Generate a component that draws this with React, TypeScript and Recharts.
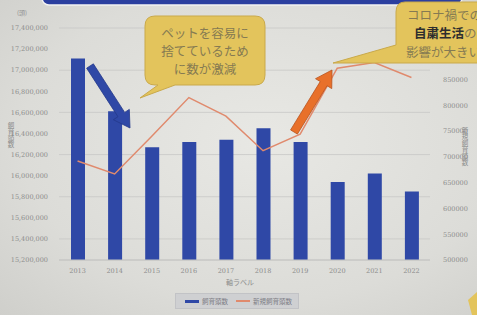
import React from 'react';
import { ComposedChart, Bar, Line, XAxis, YAxis, CartesianGrid } from 'recharts';

const years = ['2013', '2014', '2015', '2016', '2017', '2018', '2019', '2020', '2021', '2022'];
const headCounts = [17110000, 16610000, 16270000, 16320000, 16340000, 16450000, 16320000, 15940000, 16020000, 15850000];
const newCounts = [692000, 667000, 740000, 815000, 779000, 712000, 744000, 872000, 883000, 854000];
const leftTicks = [15200000, 15400000, 15600000, 15800000, 16000000, 16200000, 16400000, 16600000, 16800000, 17000000, 17200000, 17400000];
// 900000 and 950000 sit behind the callout in the original
const rightTicks = [500000, 550000, 600000, 650000, 700000, 750000, 800000, 850000];

const data = years.map((y, i) => ({ year: y, total: headCounts[i], fresh: newCounts[i] }));

const JP = '"Noto Sans CJK JP", "Noto Sans", sans-serif';
const tickStyle = { fontSize: 6.5, fill: '#8c8c8c', fontFamily: '"DejaVu Serif", serif' };

// fat arrow polygon from (x1,y1) to tip (x2,y2)
function arrowPoints(x1: number, y1: number, x2: number, y2: number, shaft: number, head: number, headLen: number) {
  const dx = x2 - x1, dy = y2 - y1;
  const len = Math.sqrt(dx * dx + dy * dy);
  const ux = dx / len, uy = dy / len;
  const px = -uy, py = ux;
  const bx = x2 - ux * headLen, by = y2 - uy * headLen;
  const pts = [
    [x1 + px * shaft / 2, y1 + py * shaft / 2],
    [bx + px * shaft / 2, by + py * shaft / 2],
    [bx + px * head / 2, by + py * head / 2],
    [x2, y2],
    [bx - px * head / 2, by - py * head / 2],
    [bx - px * shaft / 2, by - py * shaft / 2],
    [x1 - px * shaft / 2, y1 - py * shaft / 2],
  ];
  return pts.map(p => p.join(',')).join(' ');
}

function Overlay() {
  return (
    <svg width={477} height={315} style={{ position: 'absolute', left: 0, top: 0, pointerEvents: 'none' }}>
      {/* header banner */}
      <rect x={42} y={-20} width={420} height={25} rx={7} fill="#2b3f9f" stroke="#f2f2f2" strokeWidth={1.5} />
      <text x={17} y={15} fontSize={6} fill="#8c8c8c" fontFamily={JP}>(頭)</text>

      {/* arrows */}
      <polygon points={arrowPoints(90, 66, 130, 128, 8, 19, 16)} fill="#2f48a6" stroke="#23388a" strokeWidth={0.8} />
      <polygon points={arrowPoints(294, 132, 332, 70, 8, 19, 16)} fill="#e8702a" stroke="#b9521c" strokeWidth={0.8} />

      {/* callout 1 */}
      <path
        d="M155,16 L255,16 Q265,16 265,26 L265,75 Q265,85 255,85 L175,85 L140,98 L158,85 L155,85 Q145,85 145,75 L145,26 Q145,16 155,16 Z"
        fill="#e3c45c" stroke="#c9a94a" strokeWidth={1} />
      <g fontFamily={JP} fontSize={12.5} fill="#857a52" textAnchor="middle">
        <text x={205} y={38}>ペットを容易に</text>
        <text x={205} y={56}>捨てているため</text>
        <text x={205} y={74}>に数が激減</text>
      </g>

      {/* callout 2 */}
      <path
        d="M405,2 L490,2 L490,63 L412,63 L333,63 L396,45 L396,12 Q396,2 405,2 Z"
        fill="#e3c45c" stroke="#c9a94a" strokeWidth={1} />
      <g fontFamily={JP} fontSize={12.5} fill="#857a52">
        <text x={407} y={20}>コロナ禍での</text>
        <text x={414} y={38}><tspan fill="#2e2e2e" fontWeight={700}>自粛生活</tspan>の</text>
        <text x={406} y={57}>影響が大きい</text>
      </g>

      {/* corner shape */}
      <polygon points="468,300 477,292 477,315 472,315" fill="#e3c45c" />

      {/* axis titles */}
      <text x={240} y={285} fontSize={7} fill="#8c8c8c" textAnchor="middle" fontFamily={JP}>軸ラベル</text>
      <text fontSize={6.5} fill="#8c8c8c" fontFamily={JP} style={{ writingMode: 'vertical-rl' } as any} x={11} y={122}>飼育頭数</text>
      <text fontSize={6.5} fill="#8c8c8c" fontFamily={JP} style={{ writingMode: 'vertical-rl' } as any} x={465} y={127}>新規飼育頭数</text>
    </svg>
  );
}

function LegendBox() {
  return (
    <div style={{
      position: 'absolute', left: 175, top: 293, width: 124, height: 16,
      background: '#cfd0d2', border: '1px solid #c2c3c6', display: 'flex', alignItems: 'center',
      fontFamily: JP, fontSize: 6.5, color: '#7d7d85', boxSizing: 'border-box', paddingLeft: 9,
    }}>
      <span style={{ display: 'inline-block', width: 14, height: 3, background: '#2f48a6', marginRight: 3 }} />
      <span style={{ marginRight: 8 }}>飼育頭数</span>
      <span style={{ display: 'inline-block', width: 14, height: 1.5, background: '#e08a6d', marginRight: 3 }} />
      <span>新規飼育頭数</span>
    </div>
  );
}

export default function App() {
  return (
    <div style={{
      position: 'absolute', left: 0, top: 0, width: 477, height: 315, overflow: 'hidden',
      background: 'radial-gradient(ellipse at 55% 45%, #e8e8e4 0%, #dcdcd8 65%, #cfcfcb 100%)',
    }}>
      <ComposedChart width={477} height={315} data={data} margin={{ top: 28, right: 0, bottom: 0, left: 0 }}>
        <CartesianGrid yAxisId="left" vertical={false} stroke="#c8c8c6" strokeWidth={0.8} />
        <XAxis dataKey="year" height={55} tick={tickStyle} tickLine={false} axisLine={{ stroke: '#c4c4c2' }} tickMargin={2} interval={0} />
        <YAxis yAxisId="left" width={59} domain={[15200000, 17400000]} ticks={leftTicks} tick={tickStyle}
          tickLine={false} axisLine={false} tickMargin={5} tickFormatter={(v: number) => v.toLocaleString('en-US')} />
        <YAxis yAxisId="right" orientation="right" width={47} domain={[500000, 950000]} ticks={rightTicks} tick={tickStyle}
          tickLine={false} axisLine={false} tickMargin={7} />
        <Bar yAxisId="left" dataKey="total" fill="#2f48a6" barSize={14} isAnimationActive={false} />
        <Line yAxisId="right" dataKey="fresh" type="linear" stroke="#e08a6d" strokeWidth={1.5} dot={false} isAnimationActive={false} />
      </ComposedChart>
      <Overlay />
      <LegendBox />
    </div>
  );
}
